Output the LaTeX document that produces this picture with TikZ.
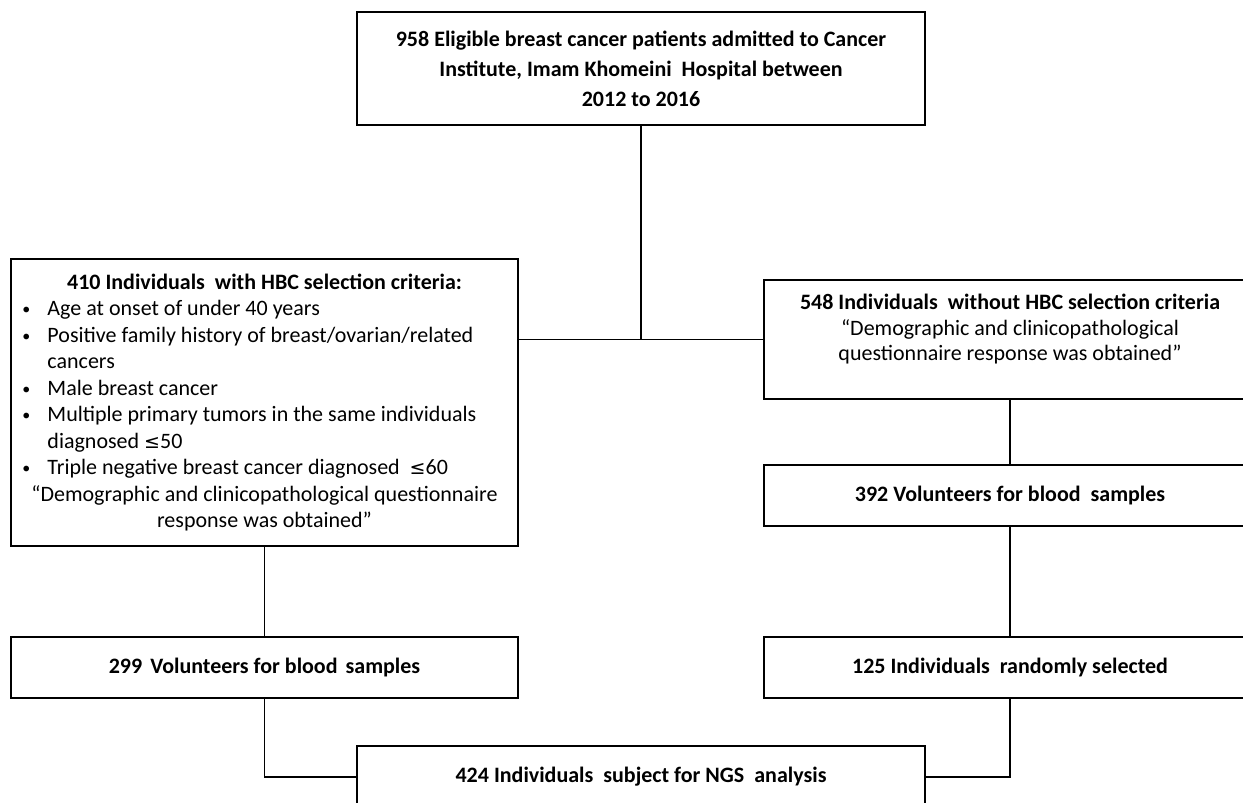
\documentclass[tikz,border=0pt]{standalone}
\usepackage{fontspec}
\setmainfont{Carlito}
\newfontfamily\symfont{DejaVu Sans}

\tikzset{
  box/.style={draw=black, line width=1.35pt, align=center, inner sep=3pt,
    font=\bfseries\fontsize{11}{13.25}\selectfont},
  link/.style={draw=black, line width=0.9pt}
}
\newcommand{\crit}[1]{\par\noindent\hangindent=13pt\hangafter=1\makebox[13pt][l]{\hspace{0.5pt}\raisebox{0.5pt}{\fontsize{8}{8}\selectfont\textbullet}}#1}
\newcommand{\leqsign}{{\symfont\fontsize{9.5}{13.25}\selectfont ≤}}

\begin{document}
\begin{tikzpicture}[x=0.5pt, y=-0.5pt]
\useasboundingbox (0,0) rectangle (1243,803);
\clip (0,0) rectangle (1243,803);
\fill[white] (0,0) rectangle (1243,803);

% boxes
\node[box, minimum width=284pt, minimum height=56.5pt, font=\bfseries\fontsize{11}{15}\selectfont] (elig) at (641,68.5)
  {958 Eligible breast cancer patients admitted to Cancer\\ Institute, Imam Khomeini~ Hospital between\\ 2012 to 2016};
\node[box, minimum width=253.5pt, minimum height=143.5pt, text width=243pt, inner xsep=5pt, align=flush left,
  font=\fontsize{11}{13.25}\selectfont] (hbc) at (264.5,402.5) {%
  {\centering\bfseries 410 Individuals~ with HBC selection criteria:\par}
  \crit{Age at onset of under 40 years}
  \crit{Positive family history of breast/ovarian/related\newline cancers}
  \crit{Male breast cancer}
  \crit{Multiple primary tumors in the same individuals\newline diagnosed \leqsign 50}
  \crit{Triple negative breast cancer diagnosed~ \leqsign 60}
  \par{\centering “Demographic and clinicopathological questionnaire\\ response was obtained”\par}};
\node[box, minimum width=246pt, minimum height=59.5pt,
  label={[anchor=north, align=center, inner sep=0pt, yshift=-7.5pt, font=\fontsize{11}{12.75}\selectfont]north:{\textbf{548 Individuals~ without HBC selection criteria}\\ “Demographic and clinicopathological\\ questionnaire response was obtained”}}]
  (nohbc) at (1010,339.5) {};
\node[box, minimum width=246pt, minimum height=30.5pt] (vol392) at (1010,495.5) {392 Volunteers for blood~ samples};
\node[box, minimum width=253.5pt, minimum height=30.5pt] (vol299) at (264.5,667.5) {299\hspace{1.5pt} Volunteers for blood\hspace{1.5pt} samples};
\node[box, minimum width=246pt, minimum height=30.5pt] (sel125) at (1010,667.5) {125 Individuals~ randomly selected};
\node[box, minimum width=284pt, minimum height=31pt] (ngs) at (641,777) {424 Individuals~ subject for NGS~ analysis};

% connectors
\draw[link] (elig.south) -- (elig.south |- nohbc.west);
\draw[link] (hbc.east |- nohbc.west) -- (nohbc.west);
\draw[link] (hbc.south) -- (vol299.north);
\draw[link] (nohbc.south) -- (vol392.north);
\draw[link] (vol392.south) -- (sel125.north);
\draw[link] (vol299.south) |- (ngs.west);
\draw[link] (sel125.south) |- (ngs.east);
\end{tikzpicture}
\end{document}
